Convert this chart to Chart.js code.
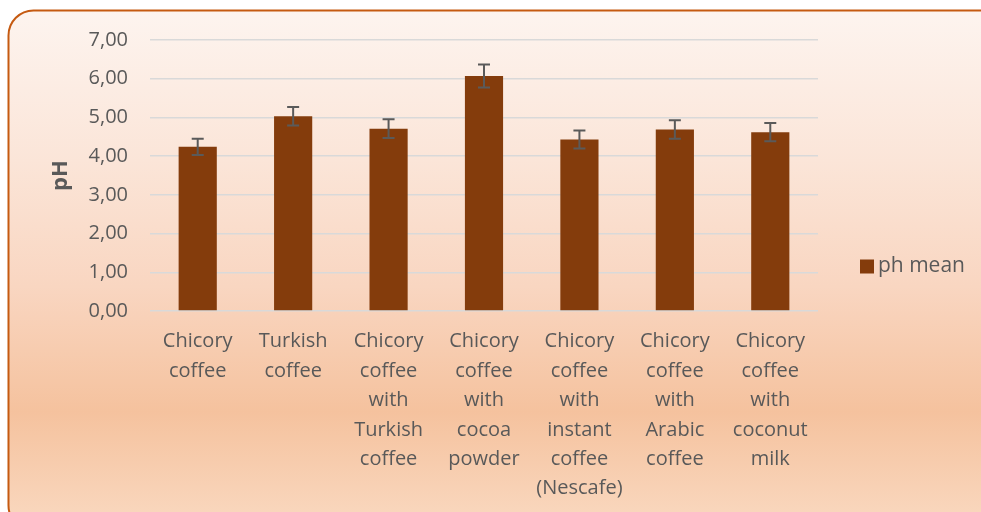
<!DOCTYPE html>
<html>
<head>
<meta charset="utf-8">
<script src="https://cdn.jsdelivr.net/npm/chart.js@4/dist/chart.umd.min.js"></script>
<style>
html,body{margin:0;padding:0;background:#fff;}
#wrap{width:981px;height:512px;position:relative;}
</style>
</head>
<body>
<div id="wrap"><canvas id="c" width="981" height="512"></canvas></div>
<script>
const categories = [
  ["Chicory", "coffee"],
  ["Turkish", "coffee"],
  ["Chicory", "coffee", "with", "Turkish", "coffee"],
  ["Chicory", "coffee", "with", "cocoa", "powder"],
  ["Chicory", "coffee", "with", "instant", "coffee", "(Nescafe)"],
  ["Chicory", "coffee", "with", "Arabic", "coffee"],
  ["Chicory", "coffee", "with", "coconut", "milk"]
];
const phMean = [4.24, 5.03, 4.71, 6.07, 4.43, 4.69, 4.62];
const phError = [0.21, 0.24, 0.24, 0.30, 0.23, 0.24, 0.235];
const seriesLabel = "ph mean";
const yTickLabels = ["0,00", "1,00", "2,00", "3,00", "4,00", "5,00", "6,00", "7,00"];
const yTitle = "pH";

const FONT = "'Open Sans', Lato, sans-serif";
const TEXT = "#595959";

const bgPlugin = {
  id: 'bg',
  beforeDraw(chart) {
    const ctx = chart.ctx;
    const x = 8.5, y = 10.5, w = 995, h = 520, r = 25;
    ctx.save();
    const g = ctx.createLinearGradient(0, y, 0, 512);
    g.addColorStop(0, '#fdf4ef');
    g.addColorStop(0.3, '#fbe5d8');
    g.addColorStop(0.55, '#f9d6c1');
    g.addColorStop(0.8, '#f5c29e');
    g.addColorStop(1, '#f9d6bc');
    ctx.beginPath();
    ctx.moveTo(x + r, y);
    ctx.lineTo(x + w - r, y);
    ctx.arcTo(x + w, y, x + w, y + r, r);
    ctx.lineTo(x + w, y + h - r);
    ctx.arcTo(x + w, y + h, x + w - r, y + h, r);
    ctx.lineTo(x + r, y + h);
    ctx.arcTo(x, y + h, x, y + h - r, r);
    ctx.lineTo(x, y + r);
    ctx.arcTo(x, y, x + r, y, r);
    ctx.closePath();
    ctx.fillStyle = g;
    ctx.fill();
    ctx.lineWidth = 2;
    ctx.strokeStyle = '#c55a11';
    ctx.stroke();
    ctx.restore();
  }
};

const errorBarPlugin = {
  id: 'errbars',
  afterDatasetsDraw(chart) {
    const ctx = chart.ctx;
    const ys = chart.scales.y;
    const meta = chart.getDatasetMeta(0);
    ctx.save();
    ctx.strokeStyle = '#5a5a5a';
    ctx.lineWidth = 2;
    meta.data.forEach((bar, i) => {
      const v = phMean[i], e = phError[i];
      const top = ys.getPixelForValue(v + e);
      const bot = ys.getPixelForValue(v - e);
      const cx = bar.x;
      ctx.beginPath();
      ctx.moveTo(cx, top); ctx.lineTo(cx, bot);
      ctx.moveTo(cx - 6, top); ctx.lineTo(cx + 6, top);
      ctx.moveTo(cx - 6, bot); ctx.lineTo(cx + 6, bot);
      ctx.stroke();
    });
    ctx.restore();
  }
};

const legendPlugin = {
  id: 'customLegend',
  afterDraw(chart) {
    const ctx = chart.ctx;
    const ds = chart.data.datasets[0];
    const ca = chart.chartArea;
    const bx = ca.right + 42;
    const cy = (ca.top + ca.bottom) / 2 + 91;
    ctx.save();
    ctx.fillStyle = ds.backgroundColor;
    ctx.fillRect(bx, cy - 7, 14, 14);
    ctx.fillStyle = TEXT;
    ctx.font = "21px " + FONT;
    ctx.textBaseline = 'middle';
    ctx.textAlign = 'left';
    ctx.fillText(ds.label, bx + 18, cy);
    ctx.restore();
  }
};

new Chart(document.getElementById('c'), {
  type: 'bar',
  data: {
    labels: categories,
    datasets: [{
      label: seriesLabel,
      data: phMean,
      backgroundColor: '#843c0c',
      borderWidth: 0,
      barPercentage: 0.4,
      categoryPercentage: 1.0
    }]
  },
  options: {
    responsive: false,
    animation: false,
    devicePixelRatio: 1,
    layout: { padding: { left: 48, right: 163, top: 40, bottom: 0 } },
    plugins: {
      legend: { display: false },
      tooltip: { enabled: false }
    },
    scales: {
      x: {
        grid: { display: false, drawTicks: false },
        border: { display: false },
        ticks: {
          color: TEXT,
          font: { family: FONT, size: 20, lineHeight: 1.47 },
          padding: 16,
          maxRotation: 0,
          autoSkip: false
        },
        afterFit(scale) { scale.height = 201; }
      },
      y: {
        min: 0, max: 7,
        grid: { color: '#d9d9d9', lineWidth: 1.5, drawTicks: false },
        border: { display: false },
        ticks: {
          stepSize: 1,
          color: TEXT,
          font: { family: FONT, size: 20 },
          padding: 22,
          callback: (v) => yTickLabels[v]
        },
        title: {
          display: true,
          text: yTitle,
          color: TEXT,
          font: { family: FONT, size: 22, weight: 'bold' },
          padding: 0
        },
        afterFit(scale) { scale.width = 102; }
      }
    }
  },
  plugins: [bgPlugin, errorBarPlugin, legendPlugin]
});
</script>
</body>
</html>
